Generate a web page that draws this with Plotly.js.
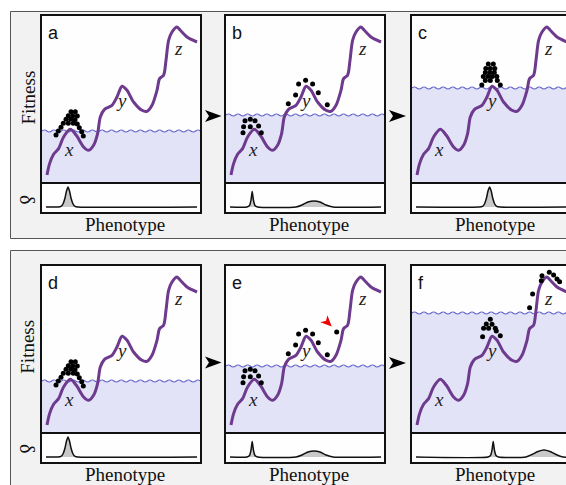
<!DOCTYPE html>
<html><head><meta charset="utf-8">
<script src="https://cdn.plot.ly/plotly-3.0.1.min.js"></script>
<style>html,body{margin:0;padding:0;overflow:hidden;background:#fff}</style>
</head><body>
<div id="chart" style="width:580px;height:485px"></div>
<script>
// ---- data (panel-relative units: phenotype 0-158, fitness 0-166) ----
const panelLetters = ['a','b','c','d','e','f'];
const landscapeX = [5, 7.6, 11.6, 16.6, 21.6, 28.3, 34.3, 41.6, 46.6, 51.6, 55.6, 58.3, 62.3, 70, 75, 80, 85, 91.6, 100, 105, 110, 115, 117.6, 121.6, 124, 126.6, 130, 135, 138.3, 145, 155];
const landscapeY = [7, 18.4, 27.7, 33.4, 45, 52.7, 46.7, 35, 31.7, 36.7, 48.4, 65, 72.4, 76.7, 85, 95.7, 91.7, 80, 71.7, 70.7, 76.7, 91.7, 103.4, 106.7, 121.7, 141.7, 150, 155, 151.7, 145, 140];
const waterLevels = [51, 67, 94, 51, 66, 119];
const peakLabels = ['x','y','z'];
const peakLabelX = [26.5, 79.3, 136.5];
const peakLabelY = [33, 81.4, 134];

// populations
const popXPeakX = [29, 33.3, 26.3, 30.7, 35.3, 24, 28.7, 33, 21.3, 26.3, 31.3, 35.3, 19, 37.3, 16.3, 39.7, 14, 41.3];
const popXPeakY = [70.3, 70.3, 66.3, 66.3, 66, 62.7, 62.7, 62.3, 58.7, 58.7, 58.7, 58, 54.7, 54.3, 51, 50.3, 47, 46];
const popSmallXX = [19, 24.3, 29, 17.6, 24.3, 32.6, 17, 35.3];
const popSmallXY = [61.3, 62.7, 61.3, 55.3, 55.3, 56, 49.3, 49.3];
const popSpreadYX = [72.6, 79.6, 86.6, 69.6, 92.3, 62.3, 101.3];
const popSpreadYY = [98, 101.7, 98, 87, 89.3, 78.3, 77.3];
const popMutantX = [110.7];
const popMutantY = [100];
const popPeakYX = [76.3, 81.3, 73.8, 78.3, 82.8, 73.3, 77.8, 82.3, 71.3, 75.8, 80.3, 84.8, 73.3, 78.3, 85.3, 69.8, 88.3];
const popPeakYY = [118, 118, 113.5, 113.5, 113.5, 109.5, 109.5, 109.5, 105.5, 105.5, 105.5, 105.5, 101.5, 101.5, 101.5, 97, 97];
const popSmallYX = [78.3, 74.3, 80, 83.3, 71.6, 76.6, 84.3, 70.6, 88.3];
const popSmallYY = [112.7, 108, 107.7, 103.7, 103.7, 103.7, 101, 95.3, 96.3];
const popZX = [130, 137.3, 141.6, 145, 129.3, 147.6, 120.6, 117.6];
const popZY = [156.3, 159.7, 157, 153, 151.3, 150.3, 138, 124.3];
const pointerX = [101.8];
const pointerY = [109.4];

// delta (phenotype distribution) curves, height 0-30
const deltaOneX = [4, 16, 19, 21, 23, 24.5, 26, 27.5, 29, 31, 33, 36, 155];
const deltaOneY = [5, 5, 5.6, 8, 14, 21, 25, 21, 14, 8, 5.6, 5, 5];
const deltaTwoX = [4, 21, 23.5, 25, 26.2, 27.4, 29, 31.5, 70, 76, 82, 88, 94, 100, 107, 155];
const deltaTwoY = [5, 5, 6.5, 12, 20.5, 12, 6.5, 5, 5, 7, 10, 11, 10, 7, 5, 5];
const deltaThreeX = [4, 67, 70.5, 72.5, 74.5, 76, 77.6, 79.2, 80.7, 82.7, 84.7, 88, 155];
const deltaThreeY = [5, 5, 5.6, 8, 14, 21, 25, 21, 14, 8, 5.6, 5, 5];
const deltaFourX = [4, 76, 78.5, 80, 81.2, 82.4, 84, 86.5, 114, 120, 126, 132, 138, 144, 151, 160];
const deltaFourY = [5, 5, 6.5, 12, 20.5, 12, 6.5, 5, 5, 7.5, 10.5, 12, 10.5, 7.5, 5, 5];

// ---- layout geometry (pixels) ----
const W = 580, H = 485;
const colLeft = [42, 226, 412];
const rowTop = [16, 266];
const PW = 158, MH = 166, DH = 30;
const fx = x => x / W, fy = y => 1 - y / H;

const purple = '#6E3A8E';
const traces = [], shapes = [], annotations = [];
const layout = {
  width: W, height: H, margin: {l:0, r:0, t:0, b:0},
  paper_bgcolor: '#ffffff', plot_bgcolor: 'rgba(0,0,0,0)',
  showlegend: false, shapes, annotations,
  font: {family: 'Liberation Serif', color: '#111'}
};

// group boxes
shapes.push({type:'rect', xref:'paper', yref:'paper', x0:fx(10.5), x1:fx(700), y0:fy(238.5), y1:fy(11.5), fillcolor:'#F2F2F2', line:{color:'#555', width:1}, layer:'below'});
shapes.push({type:'rect', xref:'paper', yref:'paper', x0:fx(10.5), x1:fx(700), y0:fy(600), y1:fy(250.5), fillcolor:'#F2F2F2', line:{color:'#555', width:1}, layer:'below'});

const panelPops = [
  [[popXPeakX, popXPeakY]],
  [[popSmallXX, popSmallXY], [popSpreadYX, popSpreadYY]],
  [[popPeakYX, popPeakYY]],
  [[popXPeakX, popXPeakY]],
  [[popSmallXX, popSmallXY], [popSpreadYX, popSpreadYY], [popMutantX, popMutantY]],
  [[popSmallYX, popSmallYY], [popZX, popZY]]
];
const panelDelta = [[deltaOneX, deltaOneY], [deltaTwoX, deltaTwoY], [deltaThreeX, deltaThreeY],
                    [deltaOneX, deltaOneY], [deltaTwoX, deltaTwoY], [deltaFourX, deltaFourY]];

function axName(n){ return n === 1 ? '' : String(n); }
const axCommon = {showgrid:false, zeroline:false, showticklabels:false, ticks:'', showline:true, mirror:true, linecolor:'#111', linewidth:2, fixedrange:true};

for (let i = 0; i < 6; i++) {
  const col = i % 3, row = Math.floor(i / 3);
  const L = colLeft[col], T = rowTop[row];
  const nm = 2*i + 1, nd = 2*i + 2;
  const xm = 'x' + axName(nm), ym = 'y' + axName(nm);
  const xd = 'x' + axName(nd), yd = 'y' + axName(nd);
  layout['xaxis' + axName(nm)] = Object.assign({}, axCommon, {domain:[fx(L), fx(L+PW)], range:[0, PW], anchor: ym});
  layout['yaxis' + axName(nm)] = Object.assign({}, axCommon, {domain:[fy(T+MH), fy(T)], range:[0, MH], anchor: xm});
  layout['xaxis' + axName(nd)] = Object.assign({}, axCommon, {domain:[fx(L), fx(L+PW)], range:[0, PW], anchor: yd, mirror:false});
  layout['yaxis' + axName(nd)] = Object.assign({}, axCommon, {domain:[fy(T+MH+DH), fy(T+MH)], range:[0, DH], anchor: xd});

  // white panel backgrounds
  shapes.push({type:'rect', xref:'paper', yref:'paper', x0:fx(L), x1:fx(L+PW), y0:fy(T+MH+DH), y1:fy(T), fillcolor:'#FEFEFE', line:{width:0}, layer:'below'});
  // water
  const wl = waterLevels[i];
  shapes.push({type:'rect', xref:xm, yref:ym, x0:0, x1:PW, y0:0, y1:wl, fillcolor:'#E3E3F8', line:{width:0}, layer:'below'});
  let d = 'M0,' + wl;
  for (let x = 0; x < PW + 10; x += 9.6) {
    d += ' Q' + (x+2.4) + ',' + (wl+2) + ' ' + (x+4.8) + ',' + wl + ' Q' + (x+7.2) + ',' + (wl-2) + ' ' + (x+9.6) + ',' + wl;
  }
  shapes.push({type:'path', xref:xm, yref:ym, path:d, line:{color:'#6565CC', width:1.2}, layer:'below'});

  // landscape
  traces.push({type:'scatter', mode:'lines', x:landscapeX, y:landscapeY, xaxis:xm, yaxis:ym,
    line:{color:purple, width:3, shape:'spline', smoothing:0.8}, hoverinfo:'skip'});
  // populations
  panelPops[i].forEach(p => traces.push({type:'scatter', mode:'markers', x:p[0], y:p[1], xaxis:xm, yaxis:ym,
    marker:{color:'#000', size:5}, hoverinfo:'skip'}));
  // delta
  traces.push({type:'scatter', mode:'lines', x:panelDelta[i][0], y:panelDelta[i][1], xaxis:xd, yaxis:yd,
    fill:'toself', fillcolor:'#C9C9C9', line:{color:'#111', width:1.5, shape:'spline', smoothing:0.6}, hoverinfo:'skip'});

  // peak labels
  for (let k = 0; k < 3; k++) {
    annotations.push({xref:xm, yref:ym, x:peakLabelX[k], y:peakLabelY[k], text:'<i>' + peakLabels[k] + '</i>', showarrow:false,
      font:{family:'Liberation Serif', size:19, color:'#222'}, xanchor:'center', yanchor:'middle'});
  }
  // panel letter
  annotations.push({xref:xm, yref:ym, x:4, y:161, text:panelLetters[i], showarrow:false,
    font:{family:'Liberation Sans', size:18, color:'#111'}, xanchor:'left', yanchor:'top'});
  // Phenotype
  annotations.push({xref:'paper', yref:'paper', x:fx(L + PW/2 + 4), y:fy(T + MH + DH + 12), text:'Phenotype', showarrow:false,
    font:{family:'Liberation Serif', size:19, color:'#111'}, xanchor:'center', yanchor:'middle'});
}

// row labels
[97.5, 346.7].forEach(cy => annotations.push({xref:'paper', yref:'paper', x:fx(28), y:fy(cy), text:'Fitness', textangle:-90,
  showarrow:false, font:{family:'Liberation Serif', size:19, color:'#111'}, xanchor:'center', yanchor:'middle'}));
[199, 448].forEach(cy => annotations.push({xref:'paper', yref:'paper', x:fx(27), y:fy(cy), text:'δ', textangle:90,
  showarrow:false, font:{family:'Liberation Serif', size:20, color:'#111'}, xanchor:'center', yanchor:'middle'}));

// black transition arrows
function arrowPath(bx, tx, cy, hh, notch) {
  return 'M' + fx(bx) + ',' + fy(cy-hh) + ' L' + fx(tx) + ',' + fy(cy) + ' L' + fx(bx) + ',' + fy(cy+hh) + ' L' + fx(bx+notch) + ',' + fy(cy) + ' Z';
}
[[205, 221.5, 116], [389, 406, 116], [205, 221.5, 362.5], [389, 406, 363]].forEach(a =>
  shapes.push({type:'path', xref:'paper', yref:'paper', path:arrowPath(a[0], a[1], a[2], 6, 4), fillcolor:'#000', line:{width:0}}));

// red pointer in panel e (direction down-right)
(function(){
  const cx = colLeft[1] + pointerX[0], cy = rowTop[1] + MH - pointerY[0];
  const dir = [0.707, 0.707], perp = [0.707, -0.707];
  const tip = [cx + 5.5*dir[0], cy + 5.5*dir[1]];
  const back = [cx - 5.5*dir[0], cy - 5.5*dir[1]];
  const c1 = [back[0] + 5*perp[0], back[1] + 5*perp[1]];
  const c2 = [back[0] - 5*perp[0], back[1] - 5*perp[1]];
  const nt = [back[0] + 3*dir[0], back[1] + 3*dir[1]];
  const p = q => fx(q[0]) + ',' + fy(q[1]);
  shapes.push({type:'path', xref:'paper', yref:'paper', path:'M' + p(c1) + ' L' + p(tip) + ' L' + p(c2) + ' L' + p(nt) + ' Z', fillcolor:'#F00000', line:{width:0}});
})();

Plotly.newPlot('chart', traces, layout, {staticPlot:true, displayModeBar:false});
</script>
</body></html>
